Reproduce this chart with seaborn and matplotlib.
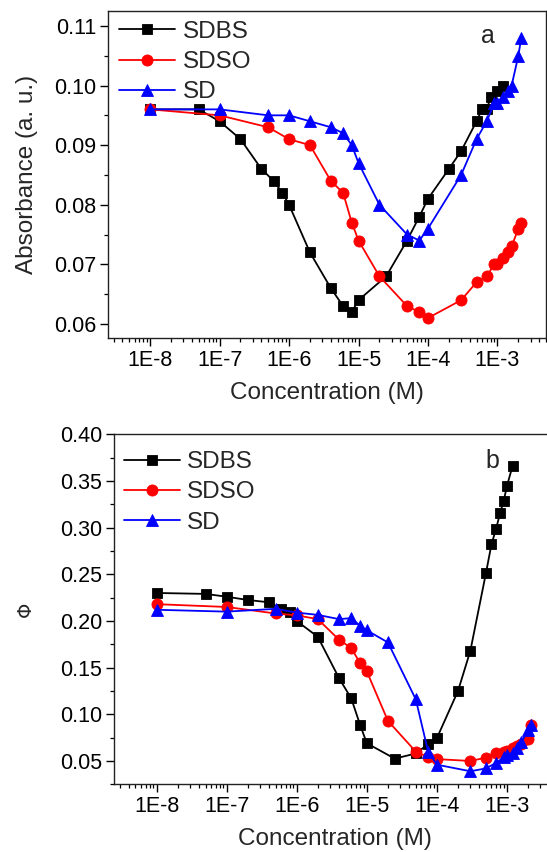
import numpy as np
import matplotlib
matplotlib.use("Agg")
import matplotlib.pyplot as plt
import matplotlib.ticker as mticker
import seaborn as sns

# ---------------- data ----------------
# Panel a: absorbance
a_sdbs_x = [1e-8, 5e-8, 1e-7, 2e-7, 4e-7, 6e-7, 8e-7, 1e-6, 2e-6, 4e-6, 6e-6, 8e-6, 1e-5,
            2.5e-5, 5e-5, 7.5e-5, 1e-4, 2e-4, 3e-4, 5e-4, 6e-4, 7e-4, 8e-4, 1e-3, 1.2e-3]
a_sdbs_y = [0.096, 0.096, 0.094, 0.091, 0.086, 0.084, 0.082, 0.080, 0.072, 0.066, 0.063, 0.062, 0.064,
            0.068, 0.074, 0.078, 0.081, 0.086, 0.089, 0.094, 0.096, 0.096, 0.098, 0.099, 0.100]

a_sdso_x = [1e-8, 1e-7, 5e-7, 1e-6, 2e-6, 4e-6, 6e-6, 8e-6, 1e-5, 2e-5, 5e-5, 7.5e-5, 1e-4,
            3e-4, 5e-4, 7e-4, 9e-4, 1e-3, 1.2e-3, 1.4e-3, 1.6e-3, 2e-3, 2.2e-3]
a_sdso_y = [0.096, 0.095, 0.093, 0.091, 0.090, 0.084, 0.082, 0.077, 0.074, 0.068, 0.063, 0.062, 0.061,
            0.064, 0.067, 0.068, 0.070, 0.070, 0.071, 0.072, 0.073, 0.076, 0.077]

a_sd_x = [1e-8, 1e-7, 5e-7, 1e-6, 2e-6, 4e-6, 6e-6, 8e-6, 1e-5, 2e-5, 5e-5, 7.5e-5, 1e-4,
          3e-4, 5e-4, 7e-4, 9e-4, 1e-3, 1.2e-3, 1.4e-3, 1.6e-3, 2e-3, 2.2e-3]
a_sd_y = [0.096, 0.096, 0.095, 0.095, 0.094, 0.093, 0.092, 0.090, 0.087, 0.080, 0.075, 0.074, 0.076,
          0.085, 0.091, 0.094, 0.097, 0.097, 0.098, 0.099, 0.100, 0.105, 0.108]

# Panel b: quantum yield
b_sdbs_x = [1e-8, 5e-8, 1e-7, 2e-7, 4e-7, 6e-7, 8e-7, 1e-6, 2e-6, 4e-6, 6e-6, 8e-6, 1e-5,
            2.5e-5, 5e-5, 7.5e-5, 1e-4, 2e-4, 3e-4, 5e-4, 6e-4, 7e-4, 8e-4, 9e-4, 1e-3, 1.2e-3]
b_sdbs_y = [0.230, 0.229, 0.226, 0.2225, 0.220, 0.213, 0.210, 0.200, 0.183, 0.139, 0.117, 0.089, 0.069,
            0.0525, 0.058, 0.068, 0.0745, 0.125, 0.168, 0.251, 0.282, 0.299, 0.316, 0.329, 0.345, 0.366]

b_sdso_x = [1e-8, 1e-7, 5e-7, 1e-6, 2e-6, 4e-6, 6e-6, 8e-6, 1e-5, 2e-5, 5e-5, 7.5e-5, 1e-4,
            3e-4, 5e-4, 7e-4, 9e-4, 1e-3, 1.2e-3, 1.4e-3, 1.6e-3, 2e-3, 2.2e-3]
b_sdso_y = [0.218, 0.215, 0.208, 0.206, 0.202, 0.180, 0.171, 0.155, 0.146, 0.093, 0.060, 0.054, 0.052,
            0.050, 0.0535, 0.059, 0.060, 0.061, 0.064, 0.066, 0.068, 0.073, 0.089]

b_sd_x = [1e-8, 1e-7, 5e-7, 1e-6, 2e-6, 4e-6, 6e-6, 8e-6, 1e-5, 2e-5, 5e-5, 7.5e-5, 1e-4,
          3e-4, 5e-4, 7e-4, 9e-4, 1e-3, 1.2e-3, 1.4e-3, 1.6e-3, 2e-3, 2.2e-3]
b_sd_y = [0.212, 0.210, 0.213, 0.209, 0.2065, 0.202, 0.203, 0.195, 0.190, 0.177, 0.116, 0.060, 0.046,
          0.039, 0.042, 0.048, 0.054, 0.056, 0.059, 0.064, 0.070, 0.083, 0.088]

series_labels = ["SDBS", "SDSO", "SD"]
x_tick_values = [1e-8, 1e-7, 1e-6, 1e-5, 1e-4, 1e-3]
x_tick_labels = ["1E-8", "1E-7", "1E-6", "1E-5", "1E-4", "1E-3"]
a_yticks = [0.06, 0.07, 0.08, 0.09, 0.10, 0.11]
b_yticks = [0.05, 0.10, 0.15, 0.20, 0.25, 0.30, 0.35, 0.40]

# ---------------- style ----------------
sns.set_theme(style="ticks")
plt.rcParams["font.family"] = ["Liberation Sans", "DejaVu Sans"]
plt.rcParams["axes.linewidth"] = 1.0
plt.rcParams["xtick.major.size"] = 5.5
plt.rcParams["ytick.major.size"] = 5.5
plt.rcParams["xtick.minor.size"] = 3.2
plt.rcParams["ytick.minor.size"] = 3.2
plt.rcParams["xtick.major.width"] = 1.0
plt.rcParams["ytick.major.width"] = 1.0
plt.rcParams["xtick.minor.width"] = 0.9
plt.rcParams["ytick.minor.width"] = 0.9
plt.rcParams["xtick.direction"] = "out"
plt.rcParams["ytick.direction"] = "out"

W, H = 547, 852
fig = plt.figure(figsize=(W / 100, H / 100), dpi=100)

def fig_rect(left, top, right, bottom):
    return [left / W, 1 - bottom / H, (right - left) / W, (bottom - top) / H]

ax_a = fig.add_axes(fig_rect(108.3, 11, 546, 338.3))
ax_b = fig.add_axes(fig_rect(114.3, 434.3, 556, 784.3))

styles = [("black", "s", 6.5), ("red", "o", 8.0), ("blue", "^", 8.5)]

def draw(ax, xs, ys):
    for (x, y), lab, (c, m, ms) in zip(zip(xs, ys), series_labels, styles):
        sns.lineplot(x=x, y=y, ax=ax, color=c, marker=m, markersize=ms,
                     markeredgecolor=c, markeredgewidth=0.6, linewidth=1.3,
                     label=lab, sort=False, errorbar=None)

draw(ax_a, [a_sdbs_x, a_sdso_x, a_sd_x], [a_sdbs_y, a_sdso_y, a_sd_y])
draw(ax_b, [b_sdbs_x, b_sdso_x, b_sd_x], [b_sdbs_y, b_sdso_y, b_sd_y])

def style_axes(ax, ylim, yticks, yminor, ylabel, ylabel_size, ylabel_pad,
               leg_anchor, ylabel_family=None):
    ax.set_xscale("log")
    ax.set_xlim(2.5e-9, 5.0e-3)
    ax.set_ylim(*ylim)
    ax.xaxis.set_major_locator(mticker.FixedLocator(x_tick_values))
    ax.xaxis.set_major_formatter(mticker.FixedFormatter(x_tick_labels))
    ax.xaxis.set_minor_locator(mticker.LogLocator(base=10, subs=np.arange(2, 10), numticks=20))
    ax.xaxis.set_minor_formatter(mticker.NullFormatter())
    ax.yaxis.set_major_locator(mticker.FixedLocator(yticks))
    ax.yaxis.set_major_formatter(mticker.FormatStrFormatter("%.2f"))
    ax.yaxis.set_minor_locator(mticker.MultipleLocator(yminor))
    ax.tick_params(axis="both", which="both", top=False, right=False,
                   labelsize=15.5, colors="black", pad=3)
    for s in ax.spines.values():
        s.set_visible(True)
        s.set_color("#222222")
        s.set_linewidth(1.0)
    ax.set_xlabel("Concentration (M)", fontsize=17.5, labelpad=8)
    if ylabel_family:
        ax.set_ylabel(ylabel, fontsize=ylabel_size, family=ylabel_family, labelpad=ylabel_pad)
    else:
        ax.set_ylabel(ylabel, fontsize=ylabel_size, labelpad=ylabel_pad)
    ax.grid(False)
    leg = ax.legend(loc="upper left", bbox_to_anchor=leg_anchor, frameon=False,
                    fontsize=17.5, handlelength=2.3, handletextpad=0.3,
                    labelspacing=0.34, borderaxespad=0.0, borderpad=0.0, numpoints=1)
    return leg

style_axes(ax_a, (0.0576, 0.1125), a_yticks, 0.005, "Absorbance (a. u.)", 17.5, 12,
           (0.025, 0.97))
style_axes(ax_b, (0.025, 0.40), b_yticks, 0.025, "\u03a6", 14, 18,
           (0.022, 0.952), ["DejaVu Sans"])

ax_a.text(0.868, 0.925, "a", transform=ax_a.transAxes, fontsize=18, ha="center", va="center")
ax_b.text(0.855, 0.925, "b", transform=ax_b.transAxes, fontsize=18, ha="center", va="center")

fig.savefig("out.png", dpi=100)
